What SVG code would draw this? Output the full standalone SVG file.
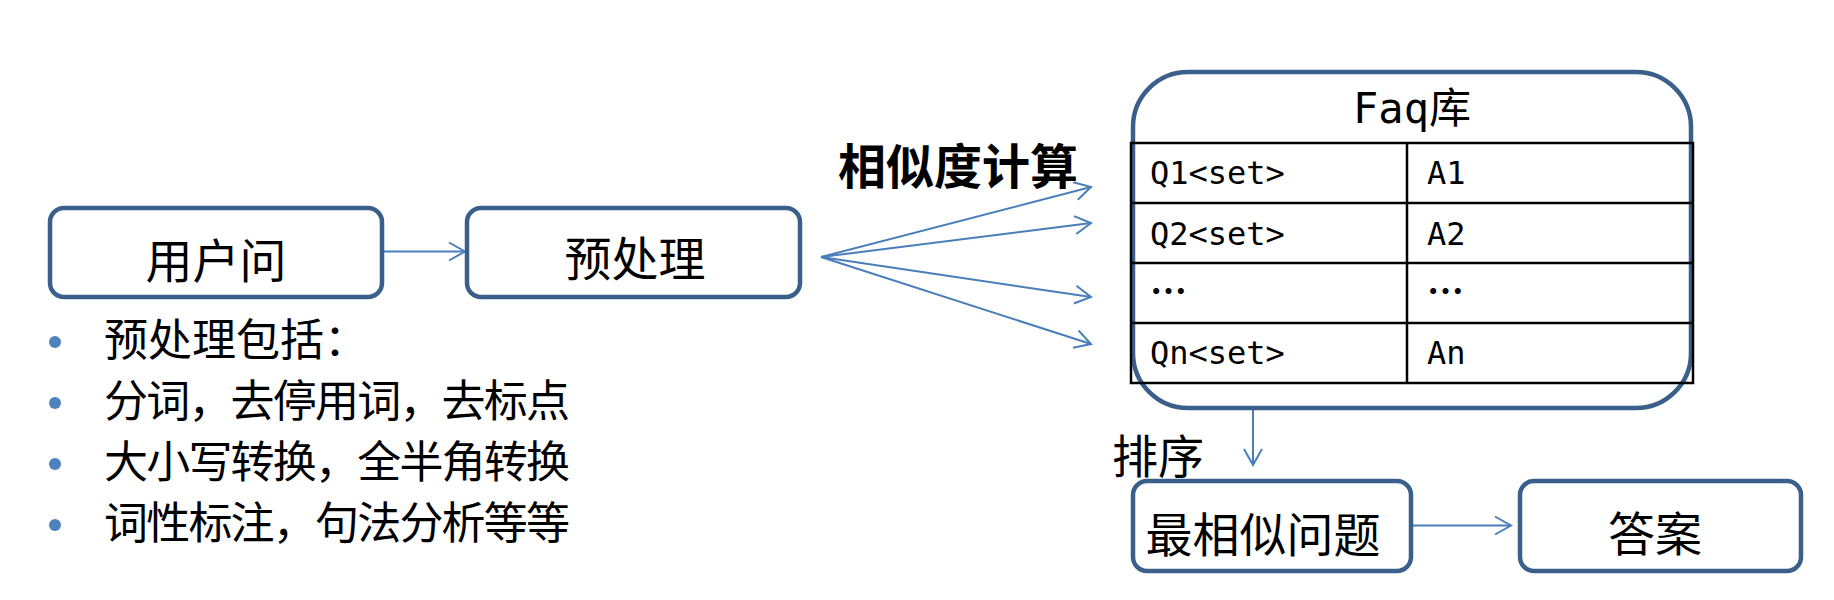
<svg xmlns="http://www.w3.org/2000/svg" width="1834" height="600" viewBox="0 0 1834 600">
<style>
.box{fill:#ffffff;stroke:#3a5f8b;stroke-width:4.5}
.cn{font-family:"Noto Sans CJK SC","Noto Sans",sans-serif;fill:#000000}
.big{font-size:47px}
.bul{font-size:44px}
.mono{font-family:"DejaVu Sans Mono","Noto Sans CJK SC",monospace;font-size:32px;fill:#000000}
.conn{stroke:#4a7ebb;stroke-width:2;fill:none}
.tbl{stroke:#000000;stroke-width:2.5;fill:none}
.dot{fill:#4f81bd}
</style>
<defs>
<marker id="arr" viewBox="-18 -11 20 22" refX="0" refY="0" markerWidth="20" markerHeight="22" markerUnits="userSpaceOnUse" orient="auto">
<path d="M-16,-9 L0,0 L-16,9" fill="none" stroke="#4a7ebb" stroke-width="2"/>
</marker>
</defs>
<rect width="1834" height="600" fill="#ffffff"/>

<g id="connectors">
<line class="conn" x1="384" y1="251.5" x2="465" y2="251.5" marker-end="url(#arr)"/>
<line class="conn" x1="821" y1="257" x2="1091" y2="187" marker-end="url(#arr)"/>
<line class="conn" x1="821" y1="257" x2="1091" y2="223" marker-end="url(#arr)"/>
<line class="conn" x1="821" y1="257" x2="1091" y2="297" marker-end="url(#arr)"/>
<line class="conn" x1="821" y1="257" x2="1091" y2="344" marker-end="url(#arr)"/>
<line class="conn" x1="1253" y1="410" x2="1253" y2="465" marker-end="url(#arr)"/>
<line class="conn" x1="1413" y1="525.5" x2="1511" y2="525.5" marker-end="url(#arr)"/>
</g>

<g id="node-user">
<rect class="box" x="50" y="208" width="332" height="89" rx="14"/>
<text class="cn big" x="216" y="278" text-anchor="middle">用户问</text>
</g>

<g id="node-pre">
<rect class="box" x="467" y="208" width="333" height="89" rx="14"/>
<text class="cn big" x="635" y="276" text-anchor="middle">预处理</text>
</g>

<g id="bullets">
<circle class="dot" cx="55" cy="342" r="6"/>
<circle class="dot" cx="55" cy="403" r="6"/>
<circle class="dot" cx="55" cy="464" r="6"/>
<circle class="dot" cx="55" cy="525" r="6"/>
<text class="cn bul" x="104" y="356">预处理包括：</text>
<text class="cn bul" x="104" y="417" textLength="466" lengthAdjust="spacing">分词，去停用词，去标点</text>
<text class="cn bul" x="104" y="478" textLength="466" lengthAdjust="spacing">大小写转换，全半角转换</text>
<text class="cn bul" x="104" y="539" textLength="466" lengthAdjust="spacing">词性标注，句法分析等等</text>
</g>

<g id="label-sim">
<text class="cn" x="838" y="184" font-size="48" font-weight="bold">相似度计算</text>
</g>

<g id="node-faq">
<rect class="box" x="1133" y="72" width="558" height="336" rx="55"/>
<text x="1412" y="123" text-anchor="middle" font-family="DejaVu Sans Mono,'Noto Sans CJK SC',monospace" font-size="42" fill="#000000">Faq库</text>
<g class="tbl">
<rect x="1131" y="143" width="562" height="240"/>
<line x1="1131" y1="203" x2="1693" y2="203"/>
<line x1="1131" y1="263" x2="1693" y2="263"/>
<line x1="1131" y1="323" x2="1693" y2="323"/>
<line x1="1407" y1="143" x2="1407" y2="383"/>
</g>
<text class="mono" x="1150" y="184">Q1&lt;set&gt;</text>
<text class="mono" x="1427" y="184">A1</text>
<text class="mono" x="1150" y="245">Q2&lt;set&gt;</text>
<text class="mono" x="1427" y="245">A2</text>
<text class="cn" x="1150" y="305" font-size="37" font-weight="bold">…</text>
<text class="cn" x="1427" y="305" font-size="37" font-weight="bold">…</text>
<text class="mono" x="1150" y="364">Qn&lt;set&gt;</text>
<text class="mono" x="1427" y="364">An</text>
</g>

<g id="label-sort">
<text class="cn" x="1112" y="473" font-size="46">排序</text>
</g>

<g id="node-most">
<rect class="box" x="1133" y="481" width="278" height="90" rx="14"/>
<text class="cn big" x="1263" y="552" text-anchor="middle">最相似问题</text>
</g>

<g id="node-answer">
<rect class="box" x="1520" y="481" width="281" height="90" rx="14"/>
<text class="cn big" x="1655" y="551" text-anchor="middle">答案</text>
</g>
</svg>
